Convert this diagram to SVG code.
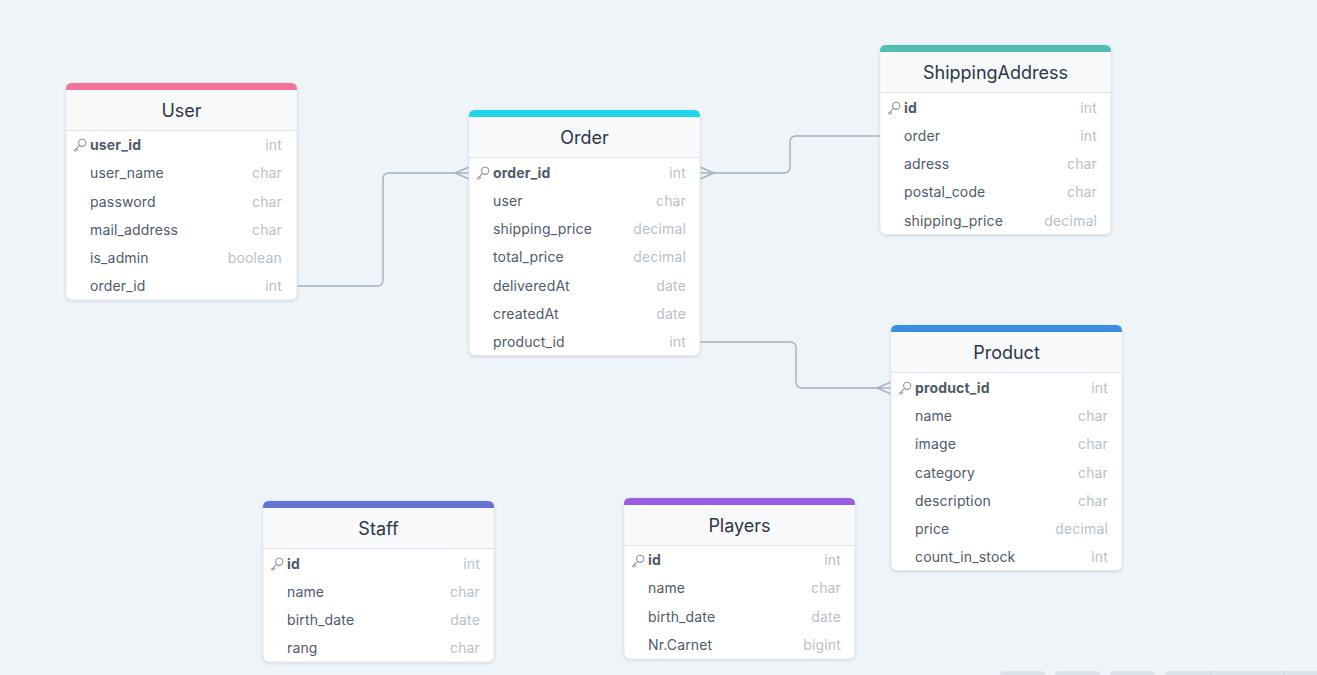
<svg xmlns="http://www.w3.org/2000/svg" width="1317" height="675" viewBox="0 0 1317 675">
<defs>
<filter id="sh" x="-10%" y="-10%" width="120%" height="120%">
<feDropShadow dx="0" dy="1" stdDeviation="1.5" flood-color="#8a9bb0" flood-opacity="0.35"/>
</filter>
<symbol id="key" viewBox="0 0 14 14">
<circle cx="9.2" cy="4.8" r="3.6" fill="none" stroke="#8d96a3" stroke-width="1.1"/>
<path d="M6.6,7.4 L1.6,12.4 M1.6,12.4 L3.2,13.4 M3.2,10.8 L4.8,12" fill="none" stroke="#8d96a3" stroke-width="1.1" stroke-linecap="round"/>
</symbol>
<style>
.card{fill:#ffffff;stroke:#e3e8ee;stroke-width:1}
.hdr{fill:#f7f9fb}
.hl{stroke:#dde3ea;stroke-width:1.2}
.title{font-family:Inter,"Liberation Sans",sans-serif;font-size:18px;fill:#2d3748;text-anchor:middle}
.f{font-family:Inter,"Liberation Sans",sans-serif;font-size:14px;fill:#4f5a6b;letter-spacing:0.15px}
.pk{font-weight:bold}
.t{font-family:Inter,"Liberation Sans",sans-serif;font-size:14px;fill:#b9c0c9;text-anchor:end;letter-spacing:0.15px}
.c{fill:none;stroke:#a4b0c2;stroke-width:1.4}
</style>
</defs>
<rect x="0" y="0" width="1317" height="675" fill="#eff4f8"/>

<g id="connectors">
<path class="c" d="M297,286 H377 Q383,286 383,280 V179 Q383,173 389,173 H469"/>
<path class="c" d="M469,167 L455,173 L469,179"/>
<path class="c" d="M700,173 H784 Q790,173 790,167 V142 Q790,136 796,136 H880"/>
<path class="c" d="M700,167 L714,173 L700,179"/>
<path class="c" d="M700,342 H790 Q796,342 796,348 V382 Q796,388 802,388 H891"/>
<path class="c" d="M891,382 L877,388 L891,394"/>
</g>

<g id="User">
<rect class="card" x="66" y="83" width="231" height="217" rx="6" filter="url(#sh)"/>
<path d="M66,90 V89 Q66,83 72,83 H291 Q297,83 297,89 V90 Z" fill="#f2729a"/>
<rect class="hdr" x="66.5" y="90" width="230" height="40"/>
<line class="hl" x1="66" y1="130.5" x2="297" y2="130.5"/>
<text class="title" x="181.5" y="117">User</text>
<use href="#key" x="73" y="138" width="14" height="14"/>
<text class="f pk" x="90" y="150">user_id</text><text class="t" x="282" y="150">int</text>
<text class="f" x="90" y="178">user_name</text><text class="t" x="282" y="178">char</text>
<text class="f" x="90" y="207">password</text><text class="t" x="282" y="207">char</text>
<text class="f" x="90" y="235">mail_address</text><text class="t" x="282" y="235">char</text>
<text class="f" x="90" y="263">is_admin</text><text class="t" x="282" y="263">boolean</text>
<text class="f" x="90" y="291">order_id</text><text class="t" x="282" y="291">int</text>
</g>

<g id="Order">
<rect class="card" x="469" y="110" width="231" height="245.5" rx="6" filter="url(#sh)"/>
<path d="M469,117 V116 Q469,110 475,110 H694 Q700,110 700,116 V117 Z" fill="#22d4ec"/>
<rect class="hdr" x="469.5" y="117" width="230" height="40"/>
<line class="hl" x1="469" y1="157.5" x2="700" y2="157.5"/>
<text class="title" x="584.5" y="144">Order</text>
<use href="#key" x="476" y="166" width="14" height="14"/>
<text class="f pk" x="493" y="178">order_id</text><text class="t" x="686" y="178">int</text>
<text class="f" x="493" y="206">user</text><text class="t" x="686" y="206">char</text>
<text class="f" x="493" y="234">shipping_price</text><text class="t" x="686" y="234">decimal</text>
<text class="f" x="493" y="262">total_price</text><text class="t" x="686" y="262">decimal</text>
<text class="f" x="493" y="291">deliveredAt</text><text class="t" x="686" y="291">date</text>
<text class="f" x="493" y="319">createdAt</text><text class="t" x="686" y="319">date</text>
<text class="f" x="493" y="347">product_id</text><text class="t" x="686" y="347">int</text>
</g>

<g id="ShippingAddress">
<rect class="card" x="880" y="45" width="231" height="189.5" rx="6" filter="url(#sh)"/>
<path d="M880,52 V51 Q880,45 886,45 H1105 Q1111,45 1111,51 V52 Z" fill="#4fc0b0"/>
<rect class="hdr" x="880.5" y="52" width="230" height="40"/>
<line class="hl" x1="880" y1="92.5" x2="1111" y2="92.5"/>
<text class="title" x="995.5" y="79">ShippingAddress</text>
<use href="#key" x="887" y="101" width="14" height="14"/>
<text class="f pk" x="904" y="113">id</text><text class="t" x="1097" y="113">int</text>
<text class="f" x="904" y="141">order</text><text class="t" x="1097" y="141">int</text>
<text class="f" x="904" y="169">adress</text><text class="t" x="1097" y="169">char</text>
<text class="f" x="904" y="197">postal_code</text><text class="t" x="1097" y="197">char</text>
<text class="f" x="904" y="226">shipping_price</text><text class="t" x="1097" y="226">decimal</text>
</g>

<g id="Product">
<rect class="card" x="891" y="325" width="231" height="245.5" rx="6" filter="url(#sh)"/>
<path d="M891,332 V331 Q891,325 897,325 H1116 Q1122,325 1122,331 V332 Z" fill="#3a8fe0"/>
<rect class="hdr" x="891.5" y="332" width="230" height="40"/>
<line class="hl" x1="891" y1="372.5" x2="1122" y2="372.5"/>
<text class="title" x="1006.5" y="359">Product</text>
<use href="#key" x="898" y="381" width="14" height="14"/>
<text class="f pk" x="915" y="393">product_id</text><text class="t" x="1108" y="393">int</text>
<text class="f" x="915" y="421">name</text><text class="t" x="1108" y="421">char</text>
<text class="f" x="915" y="449">image</text><text class="t" x="1108" y="449">char</text>
<text class="f" x="915" y="478">category</text><text class="t" x="1108" y="478">char</text>
<text class="f" x="915" y="506">description</text><text class="t" x="1108" y="506">char</text>
<text class="f" x="915" y="534">price</text><text class="t" x="1108" y="534">decimal</text>
<text class="f" x="915" y="562">count_in_stock</text><text class="t" x="1108" y="562">int</text>
</g>

<g id="Staff">
<rect class="card" x="263" y="501" width="231" height="161" rx="6" filter="url(#sh)"/>
<path d="M263,508 V507 Q263,501 269,501 H488 Q494,501 494,507 V508 Z" fill="#6773d2"/>
<rect class="hdr" x="263.5" y="508" width="230" height="40"/>
<line class="hl" x1="263" y1="548.5" x2="494" y2="548.5"/>
<text class="title" x="378.5" y="535">Staff</text>
<use href="#key" x="270" y="557" width="14" height="14"/>
<text class="f pk" x="287" y="569">id</text><text class="t" x="480" y="569">int</text>
<text class="f" x="287" y="597">name</text><text class="t" x="480" y="597">char</text>
<text class="f" x="287" y="625">birth_date</text><text class="t" x="480" y="625">date</text>
<text class="f" x="287" y="653">rang</text><text class="t" x="480" y="653">char</text>
</g>

<g id="Players">
<rect class="card" x="624" y="498" width="231" height="161" rx="6" filter="url(#sh)"/>
<path d="M624,505 V504 Q624,498 630,498 H849 Q855,498 855,504 V505 Z" fill="#9a5ee2"/>
<rect class="hdr" x="624.5" y="505" width="230" height="40"/>
<line class="hl" x1="624" y1="545.5" x2="855" y2="545.5"/>
<text class="title" x="739.5" y="532">Players</text>
<use href="#key" x="631" y="554" width="14" height="14"/>
<text class="f pk" x="648" y="565">id</text><text class="t" x="841" y="565">int</text>
<text class="f" x="648" y="593">name</text><text class="t" x="841" y="593">char</text>
<text class="f" x="648" y="622">birth_date</text><text class="t" x="841" y="622">date</text>
<text class="f" x="648" y="650">Nr.Carnet</text><text class="t" x="841" y="650">bigint</text>
</g>

<g id="toolbar" fill="#dde3ea">
<rect x="1000" y="671" width="45" height="10" rx="4"/>
<rect x="1055" y="671" width="45" height="10" rx="4"/>
<rect x="1110" y="671" width="45" height="10" rx="4"/>
<rect x="1165" y="671" width="160" height="10" rx="4"/>
<line x1="1211" y1="671" x2="1211" y2="675" stroke="#c9d1db"/>
<line x1="1284" y1="671" x2="1284" y2="675" stroke="#c9d1db"/>
</g>
</svg>
